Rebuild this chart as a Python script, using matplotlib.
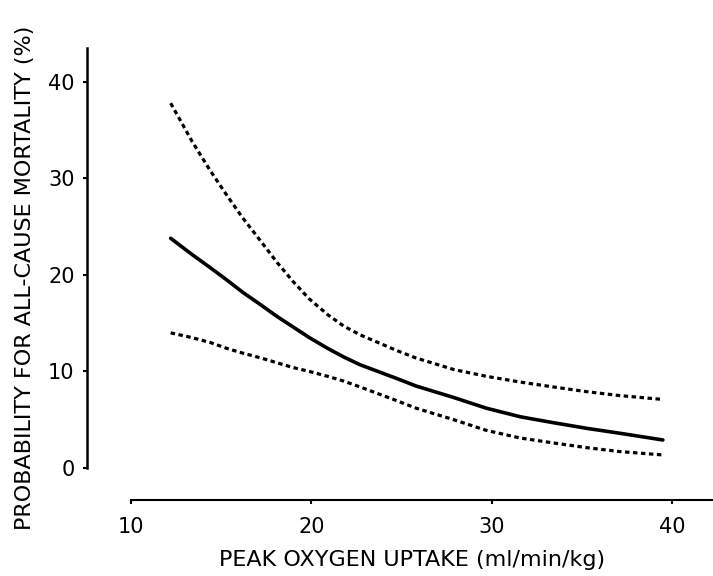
import matplotlib
matplotlib.use("Agg")
import matplotlib.pyplot as plt

# values
peak_vo2 = [12.2, 13.4, 14.4, 15.3, 16.2, 17.2, 18.1, 19.0, 19.9, 20.9, 21.8,
            22.7, 23.7, 24.7, 25.8, 27.9, 29.7, 31.6, 33.4, 35.3, 37.1, 39.5]
mortality = [23.8, 22.1, 20.75, 19.5, 18.2, 16.9, 15.7, 14.6, 13.5, 12.4, 11.5,
             10.7, 10.0, 9.3, 8.5, 7.3, 6.2, 5.3, 4.7, 4.1, 3.6, 2.9]
upper_ci = [37.8, 33.8, 30.8, 28.3, 25.9, 23.5, 21.3, 19.3, 17.5, 15.9, 14.7,
            13.8, 13.0, 12.2, 11.4, 10.2, 9.5, 8.9, 8.4, 7.9, 7.5, 7.1]
lower_ci = [14.0, 13.5, 13.0, 12.4, 11.9, 11.4, 10.9, 10.4, 10.0, 9.5, 9.0,
            8.4, 7.7, 7.0, 6.2, 5.0, 3.9, 3.1, 2.6, 2.1, 1.7, 1.35]

x_ticks = [10, 20, 30, 40]
y_ticks = [0, 10, 20, 30, 40]

plt.rcParams['font.family'] = ['DejaVu Sans']

fig = plt.figure(figsize=(7.13, 5.76), dpi=100)
ax = fig.add_axes([87 / 713, 76 / 576, 1 - 87 / 713, (500 - 48) / 576])

# point estimate (solid) and confidence band (dashed)
ax.plot(peak_vo2, mortality, color='black', lw=2.6, solid_capstyle='round',
        solid_joinstyle='round')
for ci in (upper_ci, lower_ci):
    ax.plot(peak_vo2, ci, color='black', lw=2.3, linestyle=(0, (1.4, 1.1)))

ax.set_xlim(7.56, 42.28)
ax.set_ylim(-3.32, 43.52)

ax.spines['top'].set_visible(False)
ax.spines['right'].set_visible(False)
ax.spines['left'].set_bounds(0, 43.52)
ax.spines['bottom'].set_bounds(10, 42.28)
ax.spines['left'].set_linewidth(1.8)
ax.spines['bottom'].set_linewidth(1.5)

ax.set_xticks(x_ticks)
ax.set_yticks(y_ticks)
ax.tick_params(axis='both', direction='out', length=3, width=1.5, labelsize=15)
ax.tick_params(axis='x', pad=9)
ax.tick_params(axis='y', pad=6)

fig.text(412 / 713, 1 - 560 / 576, 'PEAK OXYGEN UPTAKE (ml/min/kg)', fontsize=16,
         ha='center', va='center')
fig.text(25 / 713, 1 - 278 / 576, 'PROBABILITY FOR ALL-CAUSE MORTALITY (%)', fontsize=16,
         ha='center', va='center', rotation=90)

fig.savefig('out.png', dpi=100, facecolor='white')
